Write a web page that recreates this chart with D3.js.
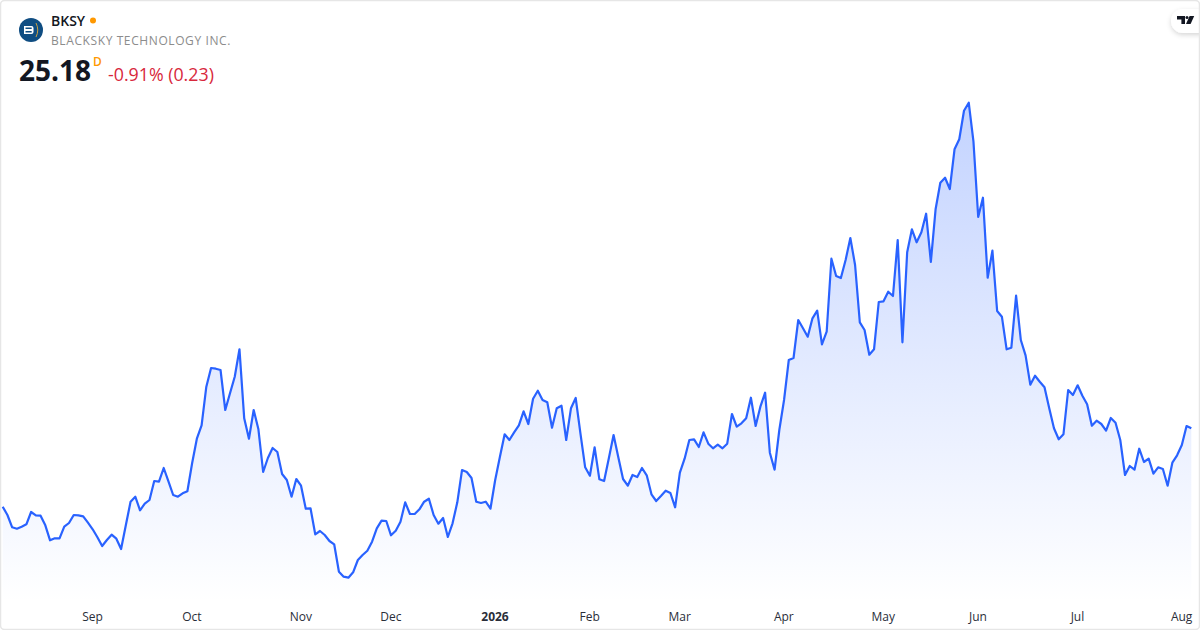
<!DOCTYPE html>
<html>
<head>
<meta charset="utf-8">
<style>
  html, body { margin: 0; padding: 0; background: #fff; }
  svg { display: block; font-family: "Open Sans", sans-serif; }
</style>
<script src="https://cdn.jsdelivr.net/npm/d3@7"></script>
</head>
<body>
<svg id="chart" width="1200" height="630"></svg>
<script>
// daily closes
var closes = [
  17.34, 16.51, 15.28, 15.14, 15.34, 15.58, 16.81, 16.48, 16.44, 15.48,
  13.98, 14.18, 14.18, 15.34, 15.71, 16.51, 16.48, 16.38, 15.74, 15.08,
  14.28, 13.41, 14.01, 14.54, 14.14, 13.11, 15.48, 17.84, 18.34, 16.98,
  17.64, 18.01, 19.91, 19.84, 21.21, 19.88, 18.51, 18.34, 18.68, 18.88,
  21.68, 24.14, 25.48, 29.34, 31.21, 31.14, 31.01, 27.01, 28.68, 30.34,
  33.08, 26.18, 24.14, 27.01, 25.08, 20.81, 22.21, 23.21, 22.81, 20.61,
  20.01, 18.34, 20.11, 19.44, 17.14, 17.18, 14.58, 14.91, 14.51, 13.91,
  13.58, 10.84, 10.34, 10.24, 10.78, 12.01, 12.51, 12.94, 13.84, 15.18,
  15.94, 15.91, 14.48, 14.94, 15.84, 17.78, 16.61, 16.61, 17.08, 17.84,
  18.14, 16.51, 15.64, 16.21, 14.31, 15.68, 17.78, 21.01, 20.81, 20.21,
  17.84, 17.71, 17.84, 17.14, 20.01, 22.34, 24.58, 24.01, 24.78, 25.48,
  26.88, 25.61, 28.14, 28.94, 28.01, 27.78, 25.24, 27.18, 27.44, 24.01,
  27.18, 28.21, 24.68, 21.28, 20.44, 23.28, 20.08, 19.91, 22.18, 24.51,
  22.28, 20.11, 19.44, 20.51, 20.31, 21.21, 20.48, 18.58, 17.91, 18.41,
  18.94, 18.71, 17.28, 20.74, 22.14, 24.01, 24.08, 23.31, 24.78, 23.64,
  23.18, 23.54, 23.18, 23.64, 26.61, 25.34, 25.68, 26.18, 28.24, 25.41,
  27.34, 28.74, 22.74, 21.04, 25.01, 28.01, 32.01, 32.21, 36.01, 35.18,
  34.34, 36.18, 36.94, 33.58, 34.84, 42.14, 40.41, 40.21, 42.01, 44.21,
  41.51, 35.78, 35.01, 32.54, 33.08, 37.81, 37.88, 38.84, 38.41, 44.01,
  33.78, 42.78, 45.08, 43.78, 44.78, 46.64, 41.81, 47.08, 49.74, 50.24,
  49.11, 53.08, 54.08, 56.94, 57.74, 53.84, 46.31, 48.24, 40.24, 42.94,
  36.91, 36.34, 33.08, 33.24, 38.44, 34.01, 32.48, 29.54, 30.44, 29.84,
  29.28, 27.18, 25.18, 24.08, 24.58, 29.01, 28.51, 29.48, 28.44, 27.58,
  25.44, 25.94, 25.61, 24.94, 26.21, 25.74, 24.01, 20.51, 21.41, 21.04,
  23.14, 21.81, 22.14, 20.64, 21.28, 21.11, 19.44, 21.74, 22.48, 23.51,
  25.41, 25.18
];
var tickIndex = [19, 40, 63, 82, 104, 124, 143, 165, 186, 206, 227, 249];
var tickLabels = ['Sep', 'Oct', 'Nov', 'Dec', '2026', 'Feb', 'Mar', 'Apr', 'May', 'Jun', 'Jul', 'Aug'];

var svg = d3.select('#chart');

var x = d3.scaleLinear().domain([0, closes.length - 1]).range([2.7, 1191.3]);
var y = d3.scaleLinear().domain([25.18, 57.74]).range([428.3, 102.7]);
var baseY = 602;

var defs = svg.append('defs');
var grad = defs.append('linearGradient')
  .attr('id', 'fade')
  .attr('gradientUnits', 'userSpaceOnUse')
  .attr('x1', 0).attr('x2', 0)
  .attr('y1', y(57.74)).attr('y2', baseY);
grad.append('stop').attr('offset', '0%').attr('stop-color', '#2962ff').attr('stop-opacity', 0.28);
grad.append('stop').attr('offset', '100%').attr('stop-color', '#2962ff').attr('stop-opacity', 0);

var shadow = defs.append('filter').attr('id', 'pill-shadow')
  .attr('x', '-30%').attr('y', '-30%').attr('width', '160%').attr('height', '170%');
shadow.append('feDropShadow')
  .attr('dx', 0).attr('dy', 2).attr('stdDeviation', 2.5)
  .attr('flood-color', '#000').attr('flood-opacity', 0.16);

var area = d3.area()
  .x(function (d, i) { return x(i); })
  .y0(baseY)
  .y1(function (d) { return y(d); });

var line = d3.line()
  .x(function (d, i) { return x(i); })
  .y(function (d) { return y(d); });

svg.append('path').datum(closes).attr('d', area).attr('fill', 'url(#fade)');
svg.append('path').datum(closes).attr('d', line)
  .attr('fill', 'none')
  .attr('stroke', '#2962ff')
  .attr('stroke-width', 2.2)
  .attr('stroke-linejoin', 'round');

// month axis, no domain line or tick marks
var axis = d3.axisBottom(x)
  .tickValues(tickIndex)
  .tickSize(0)
  .tickPadding(0)
  .tickFormat(function (d, i) { return tickLabels[i]; });

var axisG = svg.append('g').attr('transform', 'translate(-0.7,612)').call(axis);
axisG.select('.domain').remove();
axisG.selectAll('text')
  .attr('font-family', '"Open Sans", sans-serif')
  .attr('font-size', 12)
  .attr('fill', '#2a2e39')
  .attr('font-weight', function (d, i) { return tickLabels[i] === '2026' ? 700 : 400; });

// header
var logo = svg.append('g').attr('transform', 'translate(31,30)');
logo.append('circle').attr('r', 12).attr('fill', '#0f4d82');
logo.append('path')
  .attr('d', 'M-7 -4h7.5a2 2 0 0 1 2 2v4a2 2 0 0 1 -2 2h-7.5zM-5.5 -2.6v1.7h6.2v-1.7zM-5.5 0.9v1.7h6.2v-1.7z')
  .attr('fill', '#fff').attr('fill-rule', 'evenodd');
logo.append('path')
  .attr('d', 'M5 -7q3.5 7 0 14')
  .attr('fill', 'none').attr('stroke', '#e0a93a').attr('stroke-width', 0.9);

svg.append('text').attr('x', 51).attr('y', 26)
  .attr('font-size', 14).attr('font-weight', 600).attr('fill', '#131722').text('BKSY');
svg.append('circle').attr('cx', 93).attr('cy', 20.5).attr('r', 3).attr('fill', '#ff9800');
svg.append('text').attr('x', 51).attr('y', 45)
  .attr('font-size', 12).attr('letter-spacing', 0.6).attr('fill', '#8c8c8c').text('BLACKSKY TECHNOLOGY INC.');
svg.append('text').attr('x', 19).attr('y', 81)
  .attr('font-size', 28).attr('font-weight', 700).attr('fill', '#131722').text('25.18');
svg.append('text').attr('x', 93).attr('y', 66)
  .attr('font-size', 12).attr('font-weight', 600).attr('fill', '#ff9800').text('D');
svg.append('text').attr('x', 108).attr('y', 81)
  .attr('font-size', 17.8).attr('fill', '#d8283c').text('-0.91% (0.23)');

// tradingview badge
svg.append('rect')
  .attr('x', 1171).attr('y', 9).attr('width', 50).attr('height', 24).attr('rx', 12)
  .attr('fill', '#fff').attr('filter', 'url(#pill-shadow)');
svg.append('path')
  .attr('d', 'M1177 16h8v8h-3.6v-4.4h-4.4z')
  .attr('fill', '#131722');
svg.append('circle').attr('cx', 1187).attr('cy', 17.6).attr('r', 1.5).attr('fill', '#131722');
svg.append('path')
  .attr('d', 'M1189.6 16h4.6l-3.6 8h-4.6z')
  .attr('fill', '#131722');

// outer frame
svg.append('rect')
  .attr('x', 0.5).attr('y', 0.5).attr('width', 1199).attr('height', 629).attr('rx', 4)
  .attr('fill', 'none').attr('stroke', '#e6e6e6').attr('stroke-width', 1.5);
</script>
</body>
</html>
